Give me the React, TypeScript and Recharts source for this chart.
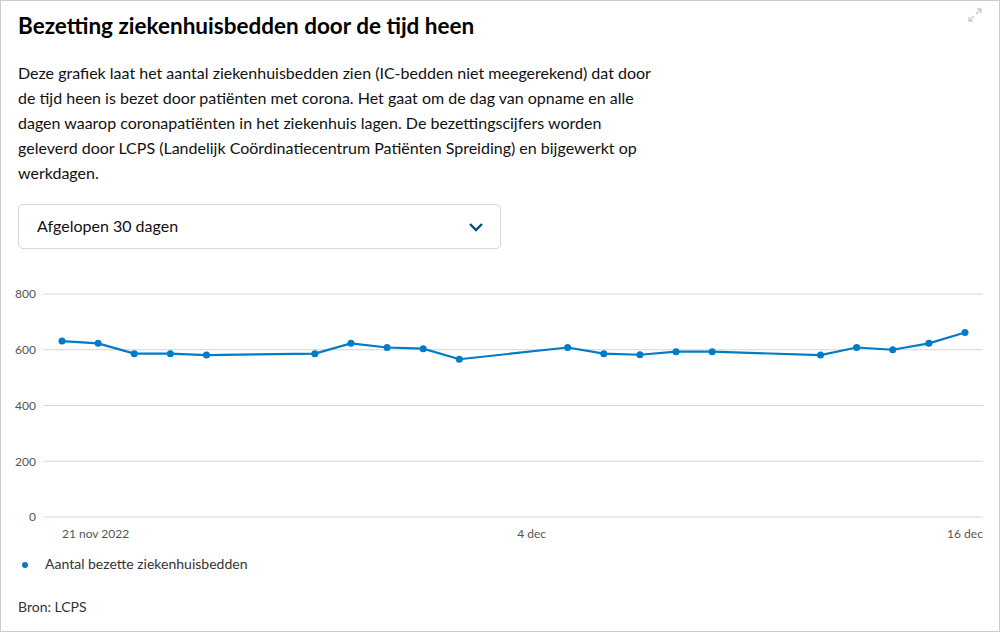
import React from 'react';
import { LineChart, Line, XAxis, YAxis, CartesianGrid } from 'recharts';

const dates: string[] = [
  '2022-11-21', '2022-11-22', '2022-11-23', '2022-11-24', '2022-11-25',
  '2022-11-28', '2022-11-29', '2022-11-30', '2022-12-01', '2022-12-02',
  '2022-12-05', '2022-12-06', '2022-12-07', '2022-12-08', '2022-12-09',
  '2022-12-12', '2022-12-13', '2022-12-14', '2022-12-15', '2022-12-16',
];
const beds: number[] = [
  631, 623, 586, 586, 581,
  586, 623, 608, 604, 566,
  608, 586, 582, 593, 593,
  581, 608, 600, 623, 662,
];
const xTickDates: string[] = ['2022-11-21', '2022-12-04', '2022-12-16'];
const xTickLabels: string[] = ['21 nov 2022', '4 dec', '16 dec'];
const yTicks: number[] = [0, 200, 400, 600, 800];

const toTs = (s: string) => {
  const [y, m, d] = s.split('-').map(Number);
  return Date.UTC(y, m - 1, d);
};

const data = dates.map((d, i) => ({ t: toTs(d), v: beds[i] }));
const xTicks = xTickDates.map(toTs);

const FONT = 'Lato, "Open Sans", sans-serif';

const XTick = (props: any) => {
  const { x, y, payload } = props;
  const idx = xTicks.indexOf(payload.value);
  const label = idx >= 0 ? xTickLabels[idx] : '';
  const anchor = idx === 0 ? 'start' : 'middle';
  return (
    <text x={x} y={y} dy={13} textAnchor={anchor} fill="#555" fontSize={12} fontFamily={FONT}>
      {label}
    </text>
  );
};

export default function App() {
  return (
    <div
      style={{
        position: 'absolute',
        left: 0,
        top: 0,
        width: 1000,
        height: 632,
        boxSizing: 'border-box',
        border: '1px solid #cccccc',
        background: '#fff',
        fontFamily: FONT,
        color: '#000',
        overflow: 'hidden',
      }}
    >
      <div
        style={{
          position: 'absolute',
          left: 17,
          top: 10,
          fontSize: 22.5,
          fontWeight: 700,
          lineHeight: '30px',
          whiteSpace: 'nowrap',
        }}
      >
        Bezetting ziekenhuisbedden door de tijd heen
      </div>
      <svg
        style={{ position: 'absolute', left: 964, top: 4 }}
        width={20}
        height={20}
        viewBox="0 0 20 20"
      >
        <g stroke="#c8c8c8" strokeWidth={1.3} fill="none">
          <line x1={4} y1={16} x2={9} y2={11} />
          <polyline points="4,12 4,16 8,16" />
          <line x1={16} y1={4} x2={11} y2={9} />
          <polyline points="12,4 16,4 16,8" />
        </g>
      </svg>
      <div
        style={{
          position: 'absolute',
          left: 17,
          top: 59,
          width: 660,
          fontSize: 16,
          lineHeight: '25px',
          color: '#111',
        }}
      >
        Deze grafiek laat het aantal ziekenhuisbedden zien (IC-bedden niet meegerekend) dat door
        <br />
        de tijd heen is bezet door patiënten met corona. Het gaat om de dag van opname en alle
        <br />
        dagen waarop coronapatiënten in het ziekenhuis lagen. De bezettingscijfers worden
        <br />
        geleverd door LCPS (Landelijk Coördinatiecentrum Patiënten Spreiding) en bijgewerkt op
        <br />
        werkdagen.
      </div>
      <div
        style={{
          position: 'absolute',
          left: 17,
          top: 203,
          width: 483,
          height: 45,
          boxSizing: 'border-box',
          border: '1px solid #d6d6d6',
          borderRadius: 5,
          background: '#fff',
        }}
      >
        <div
          style={{
            position: 'absolute',
            left: 18,
            top: -1,
            lineHeight: '43px',
            fontSize: 16,
            color: '#111',
          }}
        >
          Afgelopen 30 dagen
        </div>
        <svg style={{ position: 'absolute', left: 449, top: 16 }} width={16} height={12} viewBox="0 0 16 12">
          <polyline points="2,3 8,9 14,3" stroke="#01507a" strokeWidth={2.4} fill="none" />
        </svg>
      </div>

      <div style={{ position: 'absolute', left: -1, top: 259 }}>
        <LineChart
          width={1000}
          height={300}
          data={data}
          margin={{ top: 34, right: 17, bottom: 13, left: 0 }}
        >
          <CartesianGrid horizontal vertical={false} stroke="#d4d4d4" strokeWidth={1} />
          <XAxis
            dataKey="t"
            type="number"
            scale="time"
            domain={['dataMin', 'dataMax']}
            padding={{ left: 18, right: 18 }}
            ticks={xTicks}
            tick={<XTick />}
            axisLine={false}
            tickLine={false}
            height={30}
            interval={0}
          />
          <YAxis
            domain={[0, 800]}
            ticks={yTicks}
            axisLine={false}
            tickLine={false}
            width={44}
            tick={{ fill: '#555', fontSize: 12, fontFamily: FONT }}
            interval={0}
          />
          <Line
            type="linear"
            dataKey="v"
            stroke="#007bc7"
            strokeWidth={2.2}
            dot={{ r: 3.5, fill: '#007bc7', stroke: '#007bc7', strokeWidth: 0 }}
            isAnimationActive={false}
          />
        </LineChart>
      </div>

      <div
        style={{
          position: 'absolute',
          left: 21,
          top: 561,
          width: 6,
          height: 6,
          borderRadius: '50%',
          background: '#007bc7',
        }}
      />
      <div
        style={{
          position: 'absolute',
          left: 44,
          top: 553,
          fontSize: 14,
          lineHeight: '20px',
          color: '#333',
          whiteSpace: 'nowrap',
        }}
      >
        Aantal bezette ziekenhuisbedden
      </div>
      <div
        style={{
          position: 'absolute',
          left: 17,
          top: 596,
          fontSize: 14,
          lineHeight: '20px',
          color: '#333',
          whiteSpace: 'nowrap',
        }}
      >
        Bron: LCPS
      </div>
    </div>
  );
}
